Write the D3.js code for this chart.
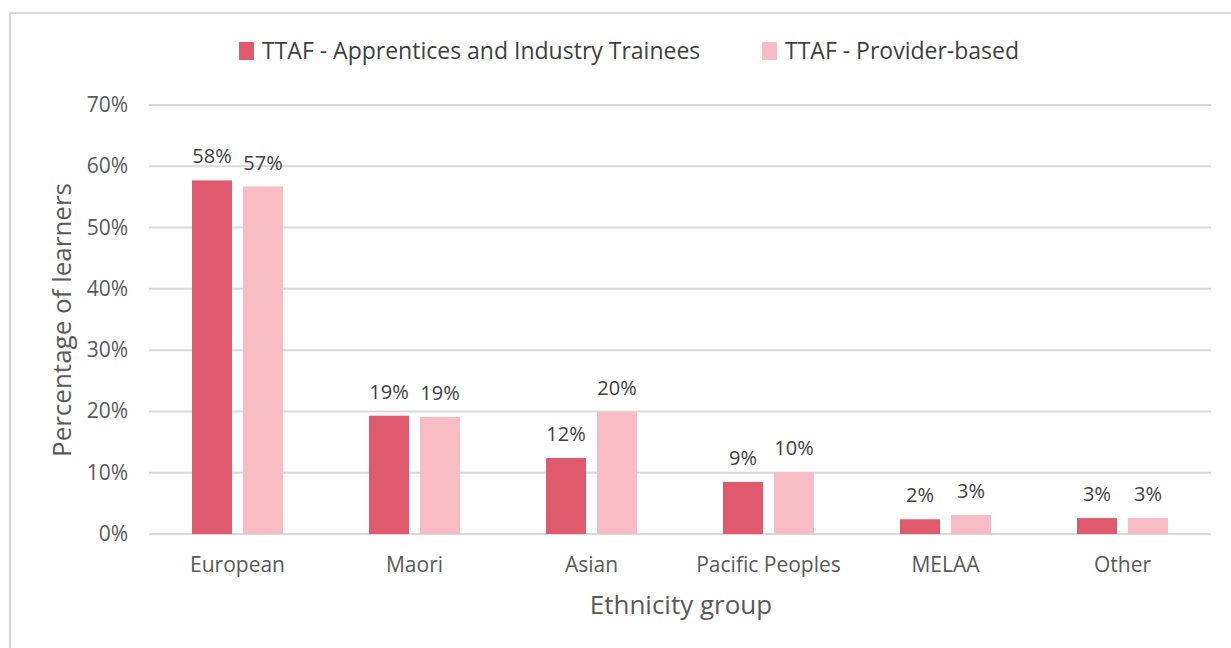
<!DOCTYPE html>
<html>
<head>
<meta charset="utf-8">
<script src="https://cdn.jsdelivr.net/npm/d3@7"></script>
<style>
  body { margin: 0; background: #fff; }
  svg { display: block; font-family: "Open Sans", "Noto Sans", sans-serif; }
</style>
</head>
<body>
<svg id="chart"></svg>
<script>
            // Data
            var categories = ["European", "Maori", "Asian", "Pacific Peoples", "MELAA", "Other"];
            var seriesNames = ["TTAF - Apprentices and Industry Trainees", "TTAF - Provider-based"];
            var apprentices = [57.7, 19.3, 12.4, 8.5, 2.4, 2.6];
            var providerBased = [56.7, 19.1, 19.9, 10.1, 3.1, 2.6];
            var yTicks = [0, 10, 20, 30, 40, 50, 60, 70];

            var w = 1231;
            var h = 648;
            var colors = ["#df5a6c", "#f7bcc4"];

            var svg = d3.select("#chart")
                .attr("width", w)
                .attr("height", h);

            // chart frame
            svg.append("rect")
                .attr("x", 10)
                .attr("y", 13)
                .attr("width", 1240)
                .attr("height", 660)
                .attr("fill", "none")
                .attr("stroke", "#d9d9d9")
                .attr("stroke-width", 2);

            var plotLeft = 149, plotRight = 1211, plotTop = 105, plotBottom = 534;
            var groupW = 91;

            var xScale = d3.scaleBand()
                .domain(categories)
                .range([plotLeft, plotRight]);

            var xInner = d3.scaleBand()
                .domain([0, 1])
                .range([0, groupW])
                .paddingInner(0.216);

            var yScale = d3.scaleLinear()
                .domain([0, 70])
                .range([plotBottom, plotTop]);

            // gridlines
            svg.append("g")
                .selectAll("line")
                .data(yTicks)
                .enter()
                .append("line")
                .attr("x1", plotLeft)
                .attr("x2", plotRight)
                .attr("y1", function(d) { return yScale(d); })
                .attr("y2", function(d) { return yScale(d); })
                .attr("stroke", "#d9d9d9")
                .attr("stroke-width", 2);

            // y tick labels
            svg.append("g")
                .selectAll("text")
                .data(yTicks)
                .enter()
                .append("text")
                .attr("x", 128)
                .attr("y", function(d) { return yScale(d) + 7; })
                .attr("text-anchor", "end")
                .attr("fill", "#595959")
                .attr("font-size", 21)
                .text(function(d) { return d + "%"; });

            // bars
            var series = [apprentices, providerBased];
            series.forEach(function(vals, s) {
                var g = svg.append("g");
                g.selectAll("rect")
                    .data(vals)
                    .enter()
                    .append("rect")
                    .attr("x", function(d, i) {
                        return xScale(categories[i]) + (xScale.bandwidth() - groupW) / 2 + xInner(s);
                    })
                    .attr("y", function(d) { return yScale(d); })
                    .attr("width", xInner.bandwidth())
                    .attr("height", function(d) { return plotBottom - yScale(d); })
                    .attr("fill", colors[s]);

                g.selectAll("text")
                    .data(vals)
                    .enter()
                    .append("text")
                    .attr("x", function(d, i) {
                        return xScale(categories[i]) + (xScale.bandwidth() - groupW) / 2 + xInner(s) + xInner.bandwidth() / 2;
                    })
                    .attr("y", function(d) { return yScale(d) - 17; })
                    .attr("text-anchor", "middle")
                    .attr("fill", "#404040")
                    .attr("font-size", 20)
                    .text(function(d) { return Math.round(d) + "%"; });
            });

            // category labels
            svg.append("g")
                .selectAll("text")
                .data(categories)
                .enter()
                .append("text")
                .attr("x", function(d) { return xScale(d) + xScale.bandwidth() / 2; })
                .attr("y", 572)
                .attr("text-anchor", "middle")
                .attr("fill", "#595959")
                .attr("font-size", 21)
                .text(function(d) { return d; });

            // axis titles
            svg.append("text")
                .attr("x", 681)
                .attr("y", 614)
                .attr("text-anchor", "middle")
                .attr("fill", "#595959")
                .attr("font-size", 26)
                .text("Ethnicity group");

            svg.append("text")
                .attr("transform", "translate(71,320) rotate(-90)")
                .attr("text-anchor", "middle")
                .attr("fill", "#595959")
                .attr("font-size", 26)
                .text("Percentage of learners");

            // legend
            var legendX = [239, 762];
            var legend = svg.append("g")
                .selectAll("g")
                .data(seriesNames)
                .enter()
                .append("g")
                .attr("transform", function(d, i) { return "translate(" + legendX[i] + ",0)"; });

            legend.append("rect")
                .attr("x", 0)
                .attr("y", 42)
                .attr("width", 15)
                .attr("height", 18)
                .attr("fill", function(d, i) { return colors[i]; });

            legend.append("text")
                .attr("x", 23)
                .attr("y", 59)
                .attr("fill", "#404040")
                .attr("font-size", 23)
                .text(function(d) { return d; });
</script>
</body>
</html>
